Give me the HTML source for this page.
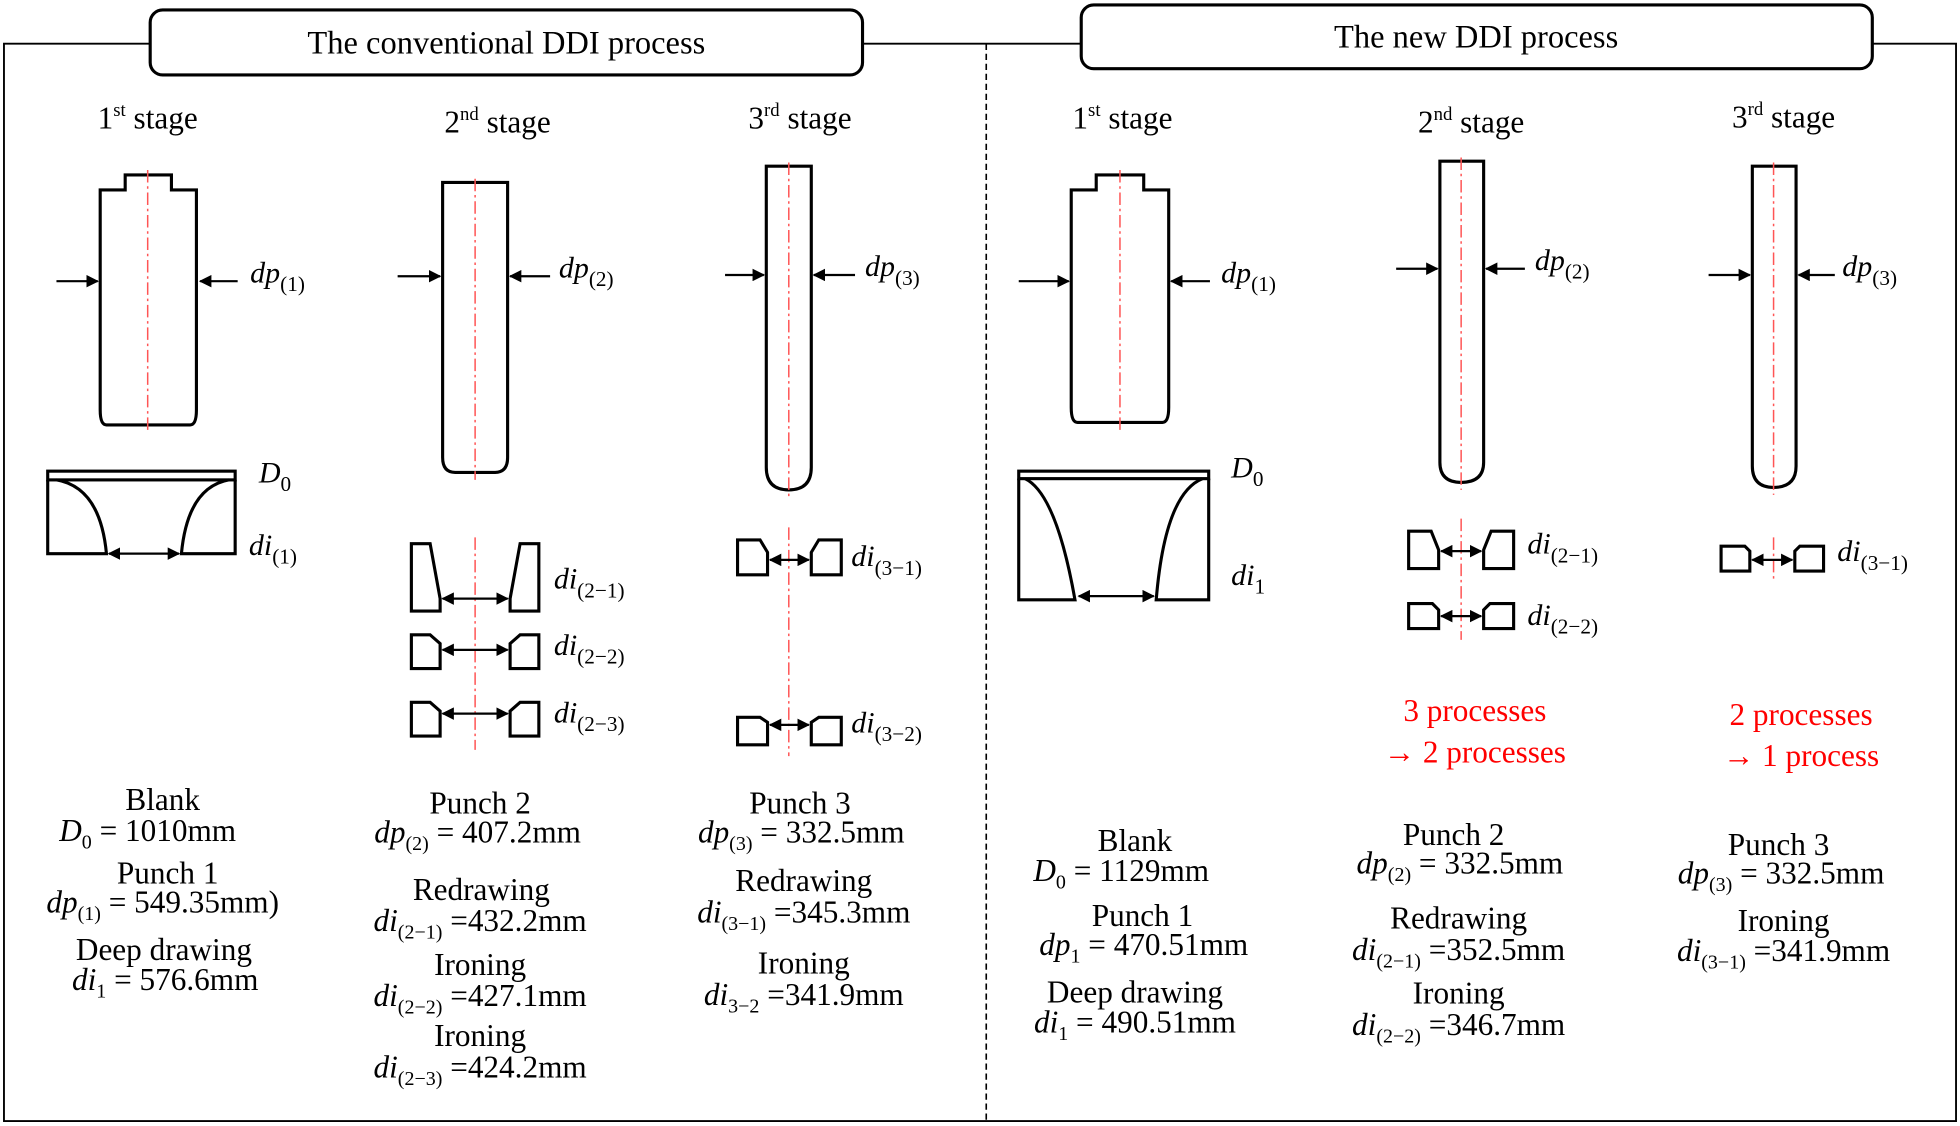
<!DOCTYPE html>
<html><head><meta charset="utf-8"><style>
html,body{margin:0;padding:0;background:#fff;}
svg{display:block}
text{font-family:"Liberation Serif",serif;fill:#000}
.t{font-size:25px;text-anchor:middle}
.m{font-size:24px;font-style:italic}
.s{font-size:17px;font-style:normal}
.r{fill:#f00;font-size:25px;text-anchor:middle}
.sh{fill:none;stroke:#000;stroke-width:2.5}
.cl{stroke:#f55;stroke-width:1.2;stroke-dasharray:10 3 2 3}
.ar{stroke:#000;stroke-width:1.8;fill:none}
</style></head><body>
<svg width="1960" height="1126" viewBox="0 0 1568 901" xmlns="http://www.w3.org/2000/svg">
<defs>
<marker id="a" markerWidth="10" markerHeight="10" refX="9" refY="5" orient="auto" markerUnits="userSpaceOnUse"><path d="M0,0 L10,5 L0,10 Z" fill="#000"/></marker>
<marker id="b" markerWidth="10" markerHeight="10" refX="1" refY="5" orient="auto" markerUnits="userSpaceOnUse"><path d="M10,0 L0,5 L10,10 Z" fill="#000"/></marker>
</defs>
<!-- frame -->
<path d="M120,35 H3 V897 H1565 V35 H1498 M690,35 H865" fill="none" stroke="#000" stroke-width="1.5"/>
<line x1="789" y1="35" x2="789" y2="897" stroke="#000" stroke-width="1.3" stroke-dasharray="5 3"/>
<rect x="120" y="8" width="570" height="52" rx="10" fill="#fff" stroke="#000" stroke-width="2.5"/>
<text x="405" y="43" class="t" style="font-size:26px">The conventional DDI process</text>
<rect x="865" y="4" width="633" height="51" rx="10" fill="#fff" stroke="#000" stroke-width="2.5"/>
<text x="1181" y="38" class="t" style="font-size:26px">The new DDI process</text>

<!-- stage labels -->
<text x="118" y="103" class="t">1<tspan font-size="15" dy="-10">st</tspan><tspan dy="10"> stage</tspan></text>
<text x="398" y="106" class="t">2<tspan font-size="15" dy="-10">nd</tspan><tspan dy="10"> stage</tspan></text>
<text x="640" y="103" class="t">3<tspan font-size="15" dy="-10">rd</tspan><tspan dy="10"> stage</tspan></text>
<text x="898" y="103" class="t">1<tspan font-size="15" dy="-10">st</tspan><tspan dy="10"> stage</tspan></text>
<text x="1177" y="106" class="t">2<tspan font-size="15" dy="-10">nd</tspan><tspan dy="10"> stage</tspan></text>
<text x="1427" y="102" class="t">3<tspan font-size="15" dy="-10">rd</tspan><tspan dy="10"> stage</tspan></text>

<!-- ===== conventional stage 1 ===== -->
<path class="sh" d="M80,152 H100 V140 H137 V152 H157 V328 Q157,340 152,340 H85 Q80,340 80,328 Z"/>
<line class="cl" x1="118" y1="136" x2="118" y2="346"/>
<line class="ar" x1="45" y1="225" x2="78" y2="225" marker-end="url(#a)"/>
<line class="ar" x1="190" y1="225" x2="160" y2="225" marker-end="url(#a)"/>
<text x="200" y="226" class="m">dp<tspan class="s" dy="7">(1)</tspan></text>
<rect x="38" y="377" width="150" height="7" class="sh" stroke-width="2"/>
<path class="sh" d="M38,384 V443 H85 Q80,390 45,384 M188,384 V443 H145 Q150,390 183,384"/>
<line class="ar" x1="87" y1="443" x2="143" y2="443" marker-end="url(#a)" marker-start="url(#b)"/>
<text x="207" y="386" class="m">D<tspan class="s" dy="7">0</tspan></text>
<text x="199" y="444" class="m">di<tspan class="s" dy="7">(1)</tspan></text>

<!-- conventional stage 2 -->
<path class="sh" d="M354,146 H406 V366 Q406,378 396,378 H364 Q354,378 354,366 Z"/>
<line class="cl" x1="380" y1="143" x2="380" y2="384"/>
<line class="ar" x1="318" y1="221" x2="352" y2="221" marker-end="url(#a)"/>
<line class="ar" x1="440" y1="221" x2="408" y2="221" marker-end="url(#a)"/>
<text x="447" y="222" class="m">dp<tspan class="s" dy="7">(2)</tspan></text>
<line class="cl" x1="380" y1="430" x2="380" y2="600"/>
<path class="sh" d="M329,489 V435 H344 L352,479 V489 Z M431,489 V435 H416 L408,479 V489 Z"/>
<line class="ar" x1="354" y1="479" x2="406" y2="479" marker-end="url(#a)" marker-start="url(#b)"/>
<text x="443" y="471" class="m">di<tspan class="s" dy="7">(2−1)</tspan></text>
<path class="sh" d="M329,508 H344 L352,515 V535 H329 Z M431,508 H416 L408,515 V535 H431 Z"/>
<line class="ar" x1="354" y1="520" x2="406" y2="520" marker-end="url(#a)" marker-start="url(#b)"/>
<text x="443" y="524" class="m">di<tspan class="s" dy="7">(2−2)</tspan></text>
<path class="sh" d="M329,562 H344 L352,569 V589 H329 Z M431,562 H416 L408,569 V589 H431 Z"/>
<line class="ar" x1="354" y1="571" x2="406" y2="571" marker-end="url(#a)" marker-start="url(#b)"/>
<text x="443" y="578" class="m">di<tspan class="s" dy="7">(2−3)</tspan></text>

<!-- conventional stage 3 -->
<path class="sh" d="M613,133 H649 V374 Q649,392 631,392 Q613,392 613,374 Z"/>
<line class="cl" x1="631" y1="130" x2="631" y2="398"/>
<line class="ar" x1="580" y1="220" x2="611" y2="220" marker-end="url(#a)"/>
<line class="ar" x1="684" y1="220" x2="651" y2="220" marker-end="url(#a)"/>
<text x="692" y="221" class="m">dp<tspan class="s" dy="7">(3)</tspan></text>
<line class="cl" x1="631" y1="422" x2="631" y2="605"/>
<path class="sh" d="M590,432 H608 L614,442 V460 H590 Z M673,432 H655 L649,442 V460 H673 Z"/>
<line class="ar" x1="616" y1="448" x2="647" y2="448" marker-end="url(#a)" marker-start="url(#b)"/>
<text x="681" y="453" class="m">di<tspan class="s" dy="7">(3−1)</tspan></text>
<path class="sh" d="M590,574 H608 L614,578 V596 H590 Z M673,574 H655 L649,578 V596 H673 Z"/>
<line class="ar" x1="616" y1="580" x2="647" y2="580" marker-end="url(#a)" marker-start="url(#b)"/>
<text x="681" y="586" class="m">di<tspan class="s" dy="7">(3−2)</tspan></text>

<!-- conventional text -->
<g class="t">
<text x="130" y="648">Blank</text>
<text x="118" y="673"><tspan font-style="italic">D</tspan><tspan font-size="16" dy="6">0</tspan><tspan dy="-6"> = 1010mm</tspan></text>
<text x="134" y="707">Punch 1</text>
<text x="130" y="730"><tspan font-style="italic">dp</tspan><tspan font-size="16" dy="6">(1)</tspan><tspan dy="-6"> = 549.35mm)</tspan></text>
<text x="131" y="768">Deep drawing</text>
<text x="132" y="792"><tspan font-style="italic">di</tspan><tspan font-size="16" dy="6">1</tspan><tspan dy="-6"> = 576.6mm</tspan></text>

<text x="384" y="651">Punch 2</text>
<text x="382" y="674"><tspan font-style="italic">dp</tspan><tspan font-size="16" dy="6">(2)</tspan><tspan dy="-6"> = 407.2mm</tspan></text>
<text x="385" y="720">Redrawing</text>
<text x="384" y="745"><tspan font-style="italic">di</tspan><tspan font-size="16" dy="6">(2−1)</tspan><tspan dy="-6"> =432.2mm</tspan></text>
<text x="384" y="780">Ironing</text>
<text x="384" y="805"><tspan font-style="italic">di</tspan><tspan font-size="16" dy="6">(2−2)</tspan><tspan dy="-6"> =427.1mm</tspan></text>
<text x="384" y="837">Ironing</text>
<text x="384" y="862"><tspan font-style="italic">di</tspan><tspan font-size="16" dy="6">(2−3)</tspan><tspan dy="-6"> =424.2mm</tspan></text>

<text x="640" y="651">Punch 3</text>
<text x="641" y="674"><tspan font-style="italic">dp</tspan><tspan font-size="16" dy="6">(3)</tspan><tspan dy="-6"> = 332.5mm</tspan></text>
<text x="643" y="713">Redrawing</text>
<text x="643" y="738"><tspan font-style="italic">di</tspan><tspan font-size="16" dy="6">(3−1)</tspan><tspan dy="-6"> =345.3mm</tspan></text>
<text x="643" y="779">Ironing</text>
<text x="643" y="804"><tspan font-style="italic">di</tspan><tspan font-size="16" dy="6">3−2</tspan><tspan dy="-6"> =341.9mm</tspan></text>
</g>

<!-- ===== new stage 1 ===== -->
<path class="sh" d="M857,152 H877 V140 H915 V152 H935 V326 Q935,338 930,338 H862 Q857,338 857,326 Z"/>
<line class="cl" x1="896" y1="136" x2="896" y2="344"/>
<line class="ar" x1="815" y1="225" x2="855" y2="225" marker-end="url(#a)"/>
<line class="ar" x1="968" y1="225" x2="937" y2="225" marker-end="url(#a)"/>
<text x="977" y="226" class="m">dp<tspan class="s" dy="7">(1)</tspan></text>
<rect x="815" y="377" width="152" height="6" class="sh" stroke-width="2"/>
<path class="sh" d="M815,383 V480 H860 Q845,395 820,383 M967,383 V480 H925 Q932,395 962,383"/>
<line class="ar" x1="863" y1="477" x2="923" y2="477" marker-end="url(#a)" marker-start="url(#b)"/>
<text x="985" y="382" class="m">D<tspan class="s" dy="7">0</tspan></text>
<text x="985" y="468" class="m">di<tspan class="s" dy="7">1</tspan></text>

<!-- new stage 2 -->
<path class="sh" d="M1152,129 H1187 V370 Q1187,386 1169,386 Q1152,386 1152,370 Z"/>
<line class="cl" x1="1169" y1="126" x2="1169" y2="392"/>
<line class="ar" x1="1117" y1="215" x2="1150" y2="215" marker-end="url(#a)"/>
<line class="ar" x1="1220" y1="215" x2="1189" y2="215" marker-end="url(#a)"/>
<text x="1228" y="216" class="m">dp<tspan class="s" dy="7">(2)</tspan></text>
<line class="cl" x1="1169" y1="415" x2="1169" y2="512"/>
<path class="sh" d="M1127,455 V425 H1145 L1151,440 V455 Z M1211,455 V425 H1193 L1187,440 V455 Z"/>
<line class="ar" x1="1153" y1="441" x2="1185" y2="441" marker-end="url(#a)" marker-start="url(#b)"/>
<text x="1222" y="443" class="m">di<tspan class="s" dy="7">(2−1)</tspan></text>
<path class="sh" d="M1127,483 H1146 L1151,488 V503 H1127 Z M1211,483 H1192 L1187,488 V503 H1211 Z"/>
<line class="ar" x1="1153" y1="493" x2="1185" y2="493" marker-end="url(#a)" marker-start="url(#b)"/>
<text x="1222" y="500" class="m">di<tspan class="s" dy="7">(2−2)</tspan></text>
<text x="1180" y="577" class="r">3 processes</text>
<text x="1180" y="610" class="r">→ 2 processes</text>

<!-- new stage 3 -->
<path class="sh" d="M1402,133 H1437 V373 Q1437,390 1419,390 Q1402,390 1402,373 Z"/>
<line class="cl" x1="1419" y1="130" x2="1419" y2="396"/>
<line class="ar" x1="1367" y1="220" x2="1400" y2="220" marker-end="url(#a)"/>
<line class="ar" x1="1468" y1="220" x2="1439" y2="220" marker-end="url(#a)"/>
<text x="1474" y="221" class="m">dp<tspan class="s" dy="7">(3)</tspan></text>
<line class="cl" x1="1419" y1="430" x2="1419" y2="465"/>
<path class="sh" d="M1377,437 H1396 L1400,441 V457 H1377 Z M1459,437 H1440 L1436,441 V457 H1459 Z"/>
<line class="ar" x1="1402" y1="448" x2="1434" y2="448" marker-end="url(#a)" marker-start="url(#b)"/>
<text x="1470" y="449" class="m">di<tspan class="s" dy="7">(3−1)</tspan></text>
<text x="1441" y="580" class="r">2 processes</text>
<text x="1441" y="613" class="r">→ 1 process</text>

<!-- new text -->
<g class="t">
<text x="908" y="681">Blank</text>
<text x="897" y="705"><tspan font-style="italic">D</tspan><tspan font-size="16" dy="6">0</tspan><tspan dy="-6"> = 1129mm</tspan></text>
<text x="914" y="741">Punch 1</text>
<text x="915" y="764"><tspan font-style="italic">dp</tspan><tspan font-size="16" dy="6">1</tspan><tspan dy="-6"> = 470.51mm</tspan></text>
<text x="908" y="802">Deep drawing</text>
<text x="908" y="826"><tspan font-style="italic">di</tspan><tspan font-size="16" dy="6">1</tspan><tspan dy="-6"> = 490.51mm</tspan></text>

<text x="1163" y="676">Punch 2</text>
<text x="1168" y="699"><tspan font-style="italic">dp</tspan><tspan font-size="16" dy="6">(2)</tspan><tspan dy="-6"> = 332.5mm</tspan></text>
<text x="1167" y="743">Redrawing</text>
<text x="1167" y="768"><tspan font-style="italic">di</tspan><tspan font-size="16" dy="6">(2−1)</tspan><tspan dy="-6"> =352.5mm</tspan></text>
<text x="1167" y="803">Ironing</text>
<text x="1167" y="828"><tspan font-style="italic">di</tspan><tspan font-size="16" dy="6">(2−2)</tspan><tspan dy="-6"> =346.7mm</tspan></text>

<text x="1423" y="684">Punch 3</text>
<text x="1425" y="707"><tspan font-style="italic">dp</tspan><tspan font-size="16" dy="6">(3)</tspan><tspan dy="-6"> = 332.5mm</tspan></text>
<text x="1427" y="745">Ironing</text>
<text x="1427" y="769"><tspan font-style="italic">di</tspan><tspan font-size="16" dy="6">(3−1)</tspan><tspan dy="-6"> =341.9mm</tspan></text>
</g>
</svg>
</body></html>
